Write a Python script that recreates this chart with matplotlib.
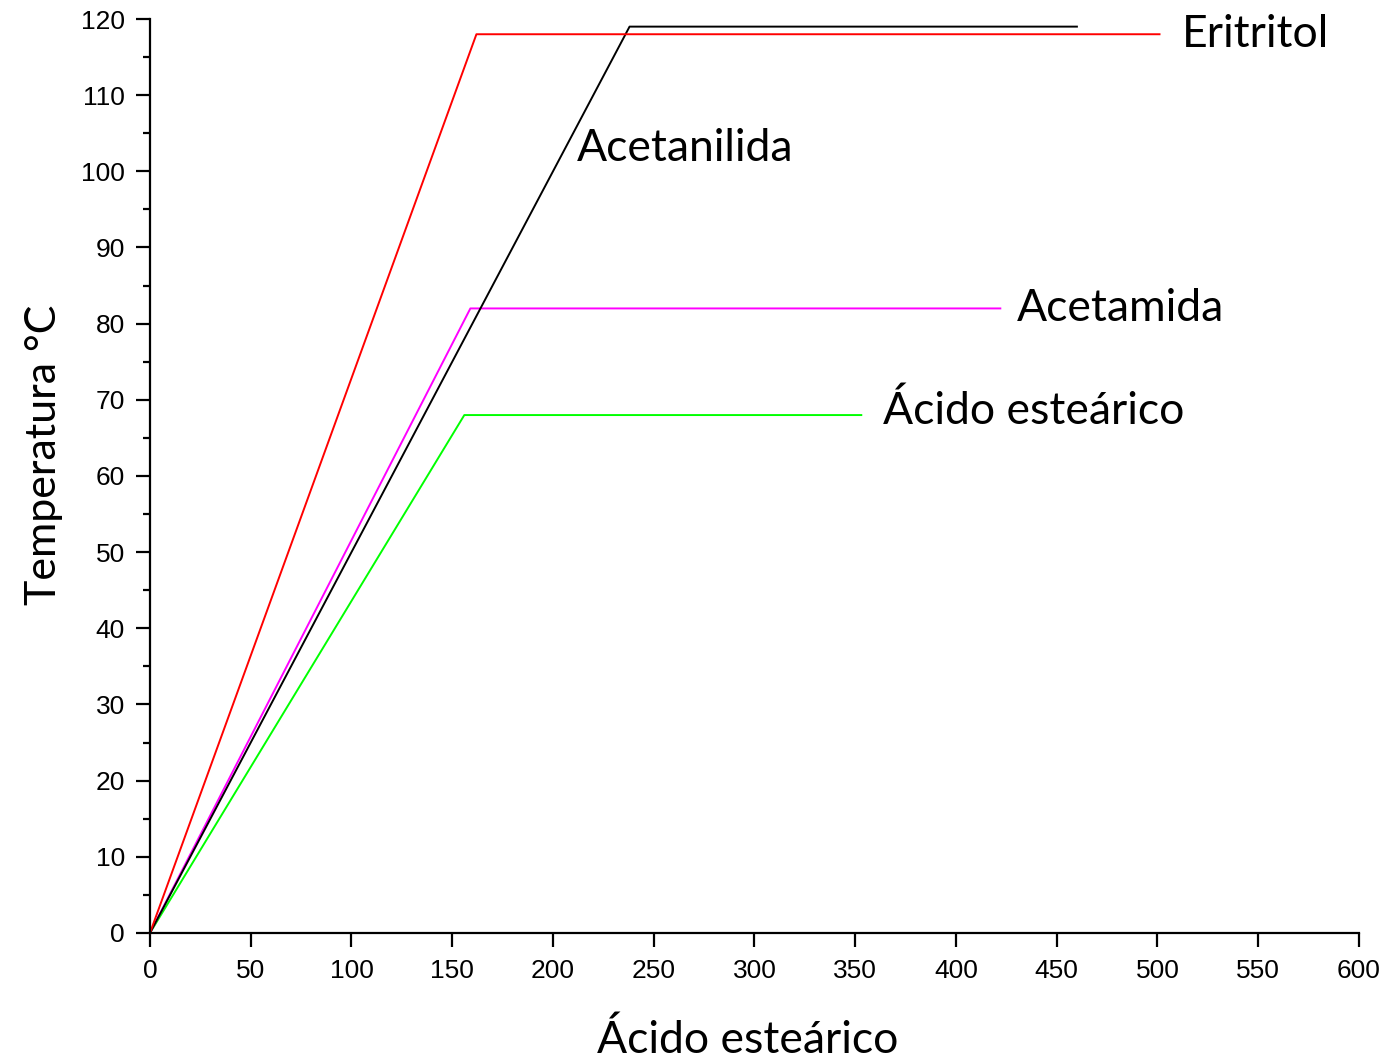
import matplotlib.pyplot as plt
from matplotlib.ticker import MultipleLocator

# Heating curves: rise to melting point, then flat plateau
eritritol_x = [0, 162, 501]
eritritol_y = [0, 118, 118]

acetanilida_x = [0, 236, 238, 460]
acetanilida_y = [0, 118, 119, 119]

acetamida_x = [0, 159, 422]
acetamida_y = [0, 82, 82]

estearico_x = [0, 156, 353]
estearico_y = [0, 68, 68]

# Curve labels: (text, x, y)
labels = [
    ("Eritritol", 512, 118),
    ("Acetanilida", 212, 103),
    ("Acetamida", 430, 82),
    ("Ácido esteárico", 364, 68.5),
]

fig = plt.figure(figsize=(13.9, 10.62), dpi=100)
ax = fig.add_axes([0.1079, 0.1215, 0.8698, 0.8606])

lw = 1.4
ax.plot(estearico_x, estearico_y, color="#00ff00", lw=lw, clip_on=False)
ax.plot(acetamida_x, acetamida_y, color="#ff00ff", lw=lw, clip_on=False)
ax.plot(acetanilida_x, acetanilida_y, color="black", lw=lw, clip_on=False)
ax.plot(eritritol_x, eritritol_y, color="#ff0000", lw=lw, clip_on=False)

for text, x, y in labels:
    ax.text(x, y, text, fontsize=32, family="Lato", va="center", ha="left")

ax.set_xlim(0, 600)
ax.set_ylim(0, 120)
ax.xaxis.set_major_locator(MultipleLocator(50))
ax.yaxis.set_major_locator(MultipleLocator(10))
ax.yaxis.set_minor_locator(MultipleLocator(5))

for side in ["top", "right"]:
    ax.spines[side].set_visible(False)
for side in ["left", "bottom"]:
    ax.spines[side].set_linewidth(1.6)

ax.tick_params(axis="both", which="major", direction="out", length=10, width=1.6,
               labelsize=19)
ax.tick_params(axis="y", which="minor", direction="out", length=5, width=1.6)
ax.tick_params(axis="x", which="major", pad=9)
ax.tick_params(axis="y", which="major", pad=8)
for lab in ax.get_xticklabels() + ax.get_yticklabels():
    lab.set_family("Liberation Sans")

ax.set_xlabel("Ácido esteárico", fontsize=32, family="Lato", labelpad=26)
ax.set_ylabel("Temperatura °C", fontsize=31, family="Lato", labelpad=13)
ax.xaxis.label.set_x(0.494)
ax.yaxis.label.set_y(0.523)

fig.savefig("out.png", dpi=100)
